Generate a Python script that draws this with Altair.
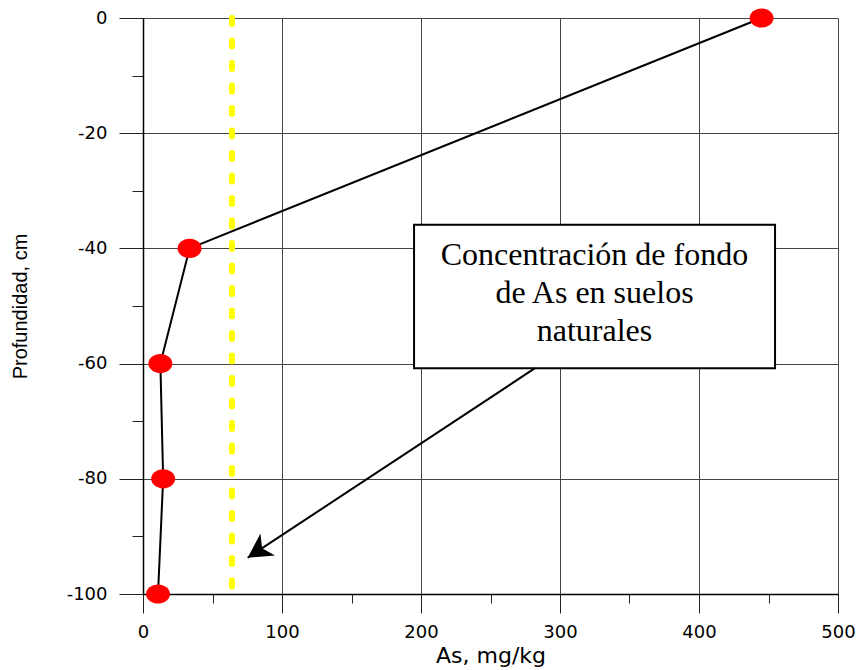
import altair as alt
import pandas as pd

# --- data ---------------------------------------------------------------
depth_cm = [0, -40, -60, -80, -100]
arsenic_mg_kg = [445, 33.5, 12.5, 14.5, 10.8]

background_x = [64, 64]
background_y = [0, -98.8]

box_x = [195]
box_x2 = [454.7]
box_y = [-35.9]
box_y2 = [-60.8]
label_lines = ["Concentración de fondo", "de As en suelos", "naturales"]
label_x = [324.8]
label_y = [-41.1]

arrow_x = [282]
arrow_y = [-60.8]
arrow_x2 = [75.3]
arrow_y2 = [-93.7]

x_major = [0, 100, 200, 300, 400, 500]
x_minor = [50, 150, 250, 350, 450]
y_major = [0, -20, -40, -60, -80, -100]
y_minor = [-10, -30, -50, -70, -90]

# --- tables -------------------------------------------------------------
profile = pd.DataFrame({"As": arsenic_mg_kg, "depth": depth_cm,
                        "idx": list(range(len(depth_cm)))})
background = pd.DataFrame({"As": background_x, "depth": background_y})
box = pd.DataFrame({"x": box_x, "x2": box_x2, "y": box_y, "y2": box_y2})
label = pd.DataFrame({"x": label_x, "y": label_y})
arrow = pd.DataFrame({"x": arrow_x, "y": arrow_y, "x2": arrow_x2, "y2": arrow_y2})

xs = alt.Scale(domain=[0, 500], nice=False, zero=False)
ys = alt.Scale(domain=[-100, 0], nice=False, zero=False)

GRID = "#444444"

x_axis_main = alt.Axis(
    values=x_major, orient="bottom", tickSize=19, labelPadding=10,
    grid=True, gridColor=GRID, gridWidth=1,
    domainColor="black", domainWidth=1.5, tickColor="#222222", tickWidth=1,
    labelFont="DejaVu Sans", labelFontSize=18, labelColor="black",
    labelFlush=False, labelOverlap=False,
    title="As, mg/kg", titleFont="DejaVu Sans", titleFontSize=22,
    titleFontWeight="normal", titleColor="black",
    titleX=347.5, titleY=61, titleAlign="center", titleBaseline="middle",
    zindex=0,
)
y_axis_main = alt.Axis(
    values=y_major, orient="left", tickSize=24, labelPadding=12,
    grid=True, gridColor=GRID, gridWidth=1,
    domainColor="black", domainWidth=1.5, tickColor="#222222", tickWidth=1,
    labelFont="DejaVu Sans", labelFontSize=18, labelColor="black",
    labelExpr="datum.value + ''", labelFlush=False, labelOverlap=False,
    title="Profundidad, cm", titleFont="Liberation Sans", titleFontSize=20,
    titleFontWeight="normal", titleColor="black", titleAngle=270,
    titleX=-123, titleY=288, titleAlign="center", titleBaseline="middle",
    zindex=0,
)
x_axis_minor = alt.Axis(
    values=x_minor, orient="bottom", tickSize=9, labels=False, domain=False,
    grid=False, tickColor="#222222", tickWidth=1, title="", zindex=0,
)
y_axis_minor = alt.Axis(
    values=y_minor, orient="left", tickSize=11, labels=False, domain=False,
    grid=False, tickColor="#222222", tickWidth=1, title="", zindex=0,
)

# --- layers -------------------------------------------------------------
profile_line = alt.Chart(profile).mark_line(color="black", strokeWidth=2).encode(
    x=alt.X("As:Q", scale=xs, axis=x_axis_main),
    y=alt.Y("depth:Q", scale=ys, axis=y_axis_main),
    order=alt.Order("idx:Q"),
)

minor_ticks = alt.Chart(profile).mark_point(opacity=0).encode(
    x=alt.X("As:Q", scale=xs, axis=x_axis_minor),
    y=alt.Y("depth:Q", scale=ys, axis=y_axis_minor),
)

background_line = alt.Chart(background).mark_line(
    color="#ffff00", strokeWidth=6, strokeDash=[6, 16.5], strokeCap="round"
).encode(
    x=alt.X("As:Q", scale=xs, axis=None),
    y=alt.Y("depth:Q", scale=ys, axis=None),
)

points = alt.Chart(profile).mark_point(
    shape="M-1,0A1,0.8,0,1,0,1,0A1,0.8,0,1,0,-1,0Z",
    size=576, filled=True, color="#ff0000", opacity=1, strokeWidth=0,
).encode(
    x=alt.X("As:Q", scale=xs, axis=None),
    y=alt.Y("depth:Q", scale=ys, axis=None),
)

box_rect = alt.Chart(box).mark_rect(
    fill="white", stroke="black", strokeWidth=2
).encode(
    x=alt.X("x:Q", scale=xs, axis=None), x2="x2:Q",
    y=alt.Y("y:Q", scale=ys, axis=None), y2="y2:Q",
)

box_text = alt.Chart(label).mark_text(
    font="Liberation Serif", fontSize=32, lineHeight=38,
    align="center", baseline="middle", color="black",
).encode(
    x=alt.X("x:Q", scale=xs, axis=None),
    y=alt.Y("y:Q", scale=ys, axis=None),
    text=alt.value(label_lines),
)

arrow_line = alt.Chart(arrow).mark_rule(color="black", strokeWidth=2).encode(
    x=alt.X("x:Q", scale=xs, axis=None), x2="x2:Q",
    y=alt.Y("y:Q", scale=ys, axis=None), y2="y2:Q",
)

arrow_head = alt.Chart(arrow).mark_point(
    shape="M0,0L0.55,1L0,0.72L-0.55,1Z", size=2304, angle=236.6,
    filled=True, color="black", opacity=1, strokeWidth=0,
).encode(
    x=alt.X("x2:Q", scale=xs, axis=None),
    y=alt.Y("y2:Q", scale=ys, axis=None),
)

chart = alt.layer(
    minor_ticks, background_line, profile_line, points,
    box_rect, box_text, arrow_line, arrow_head,
).resolve_axis(x="independent", y="independent").properties(
    width=695, height=576,
    autosize=alt.AutoSizeParams(type="none"),
    padding={"left": 143, "top": 18, "right": 23, "bottom": 76},
).configure_view(stroke=None).configure(background="white")

chart.save("out.html", embed_options={"renderer": "svg", "actions": False})
